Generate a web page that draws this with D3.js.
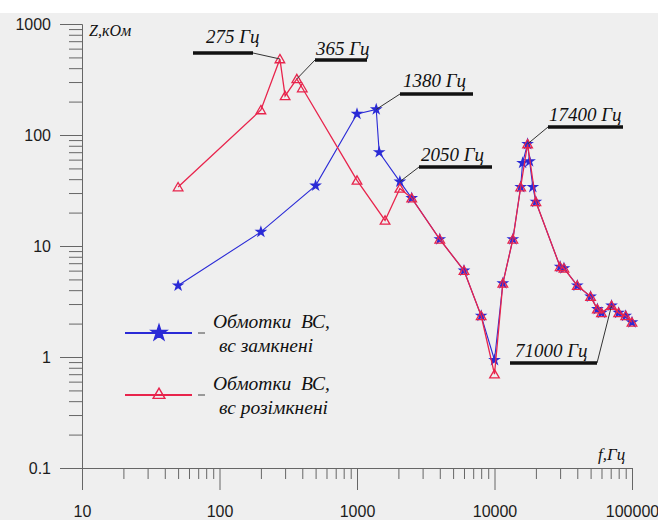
<!DOCTYPE html>
<html>
<head>
<meta charset="utf-8">
<script src="https://cdn.jsdelivr.net/npm/d3@7"></script>
<style>
  body { margin: 0; background: #fff; }
  svg { display: block; }
  .tick text { font-family: "Liberation Sans", Arial, sans-serif; font-size: 16px; fill: #1c1c1c; }
  .lbl { font-family: "Liberation Serif", "Times New Roman", serif; font-style: italic; fill: #111; white-space: pre; }
</style>
</head>
<body>
<svg id="chart" width="658" height="520"></svg>
<script>
// Impedance vs frequency, windings HV (closed / open)
const freqClosed = [50, 200, 500, 1000, 1380, 1450, 2050, 2500, 4000, 6000, 8000, 10000, 11500, 13600,
  15500, 16000, 17400, 18000, 19000, 20000, 30000, 32000, 40000, 50000, 56000, 60000, 71000, 80000, 90000, 100000];
const zClosed = [4.4, 13.4, 35, 155, 170, 70, 38, 27, 11.5, 6, 2.35, 0.94, 4.6, 11.5,
  34, 56, 83, 58, 34, 25, 6.5, 6.3, 4.4, 3.5, 2.7, 2.5, 2.9, 2.5, 2.35, 2.05];

const freqOpen = [50, 200, 275, 300, 365, 400, 1000, 1600, 2050, 2500, 4000, 6000, 8000, 10000, 11500, 13600,
  15500, 17400, 20000, 30000, 32000, 40000, 50000, 56000, 60000, 71000, 80000, 90000, 100000];
const zOpen = [34, 168, 484, 225, 320, 265, 39, 17, 33, 27, 11.5, 6, 2.35, 0.7, 4.6, 11.5,
  34, 83, 25, 6.5, 6.3, 4.4, 3.5, 2.7, 2.5, 2.9, 2.5, 2.35, 2.05];

const xTicks = [10, 100, 1000, 10000, 100000];
const yTicks = [0.1, 1, 10, 100, 1000];

// resonance call-outs: frequency, which series
const calloutFreq = [275, 365, 1380, 2050, 17400, 71000];
const calloutSeries = ['open', 'open', 'closed', 'closed', 'open', 'closed'];
const calloutText = ['275 Гц', '365 Гц', '1380 Гц', '2050 Гц', '17400 Гц', '71000 Гц'];

const legendLines1 = ['Обмотки  ВС,', 'Обмотки  ВС,'];
const legendLines2 = ['вс замкнені', 'вс розімкнені'];

const svg = d3.select('#chart');

// background
svg.append('rect').attr('x', 0).attr('y', 13).attr('width', 658).attr('height', 507).attr('fill', '#efefef');

const x = d3.scaleLog().domain([10, 100000]).range([82, 632]);
const y = d3.scaleLog().domain([0.1, 1000]).range([468, 24]);

const minor = (lo, hi) => {
  const out = [];
  for (let d = lo; d < hi; d *= 10) for (let k = 2; k <= 9; k++) out.push(d * k);
  return out;
};

// y axis
svg.append('g').attr('transform', 'translate(82,0)')
  .call(d3.axisLeft(y).tickValues(minor(0.1, 1000)).tickSize(13).tickSizeOuter(0).tickFormat(''));
svg.append('g').attr('transform', 'translate(82,0)')
  .call(d3.axisLeft(y).tickValues(yTicks).tickSize(22).tickSizeOuter(0).tickPadding(9).tickFormat(d3.format('')));

// x axis
svg.append('g').attr('transform', 'translate(0,468)')
  .call(d3.axisBottom(x).tickValues(minor(10, 100000)).tickSize(11).tickSizeOuter(0).tickFormat(''));
svg.append('g').attr('transform', 'translate(0,468)')
  .call(d3.axisBottom(x).tickValues(xTicks).tickSize(22).tickSizeOuter(0).tickPadding(16).tickFormat(d3.format('')));

svg.selectAll('.domain, .tick line').attr('stroke', '#666').attr('stroke-width', 1);

// axis titles
svg.append('text').attr('class', 'lbl').attr('x', 89).attr('y', 36).attr('font-size', 16).text('Z,кОм');
svg.append('text').attr('class', 'lbl').attr('x', 598).attr('y', 460).attr('font-size', 17).text('f,Гц');

const blue = '#2a2ad6';
const red = '#e8244c';

const closed = freqClosed.map((f, i) => ({ f, z: zClosed[i] }));
const open = freqOpen.map((f, i) => ({ f, z: zOpen[i] }));

const line = d3.line().x(d => x(d.f)).y(d => y(d.z));

const star = d3.symbol().type(d3.symbolStar).size(50);
const tri = d3.symbol().type(d3.symbolTriangle).size(40);

// closed windings (blue, stars)
svg.append('path').datum(closed).attr('d', line)
  .attr('fill', 'none').attr('stroke', blue).attr('stroke-width', 1.1);
svg.append('g').selectAll('path').data(closed).join('path')
  .attr('transform', d => `translate(${x(d.f)},${y(d.z)})`)
  .attr('d', star).attr('fill', blue);

// open windings (red, triangles)
svg.append('path').datum(open).attr('d', line)
  .attr('fill', 'none').attr('stroke', red).attr('stroke-width', 1.3);
svg.append('g').selectAll('path').data(open).join('path')
  .attr('transform', d => `translate(${x(d.f)},${y(d.z) + 1})`)
  .attr('d', tri).attr('fill', 'none').attr('stroke', red).attr('stroke-width', 1.3);

// call-outs: underline start, end, height (px) and text x, y
const calloutLayout = [
  [253, 193, 53, 206, 43],
  [315, 367, 60, 316, 55],
  [400, 473, 94, 403, 87],
  [419, 492, 167, 421, 161],
  [548, 623, 127, 549, 121],
  [597, 510, 363, 515, 357]
];

calloutFreq.forEach((f, i) => {
  const src = calloutSeries[i] === 'open' ? open : closed;
  const p = src.find(d => d.f === f);
  const [ax, bx, uy, tx, ty] = calloutLayout[i];
  const g = svg.append('g');
  g.append('line').attr('x1', ax).attr('y1', uy).attr('x2', x(p.f)).attr('y2', y(p.z))
    .attr('stroke', '#333').attr('stroke-width', 1);
  g.append('line').attr('x1', ax).attr('y1', uy).attr('x2', bx).attr('y2', uy)
    .attr('stroke', '#111').attr('stroke-width', 3.5);
  g.append('text').attr('class', 'lbl').attr('x', tx).attr('y', ty)
    .attr('font-size', 19).text(calloutText[i]);
});

// legend
const legendRows = [
  { color: blue, fill: blue, y: 333 },
  { color: red, fill: 'none', y: 395 }
];
legendRows.forEach((r, i) => {
  const g = svg.append('g');
  g.append('line').attr('x1', 125).attr('x2', 192).attr('y1', r.y).attr('y2', r.y)
    .attr('stroke', r.color).attr('stroke-width', 2.2);
  g.append('path').attr('transform', `translate(159,${r.y})`)
    .attr('d', d3.symbol().type(i === 0 ? d3.symbolStar : d3.symbolTriangle).size(i === 0 ? 75 : 60))
    .attr('fill', r.fill).attr('stroke', r.color).attr('stroke-width', 1.4);
  g.append('line').attr('x1', 198).attr('x2', 205).attr('y1', r.y).attr('y2', r.y)
    .attr('stroke', '#444').attr('stroke-width', 1);
  g.append('text').attr('class', 'lbl').attr('x', 213).attr('y', r.y - 5)
    .attr('font-size', 19.5).text(legendLines1[i]);
  g.append('text').attr('class', 'lbl').attr('x', 219).attr('y', r.y + 19)
    .attr('font-size', 19.5).text(legendLines2[i]);
});
</script>
</body>
</html>
